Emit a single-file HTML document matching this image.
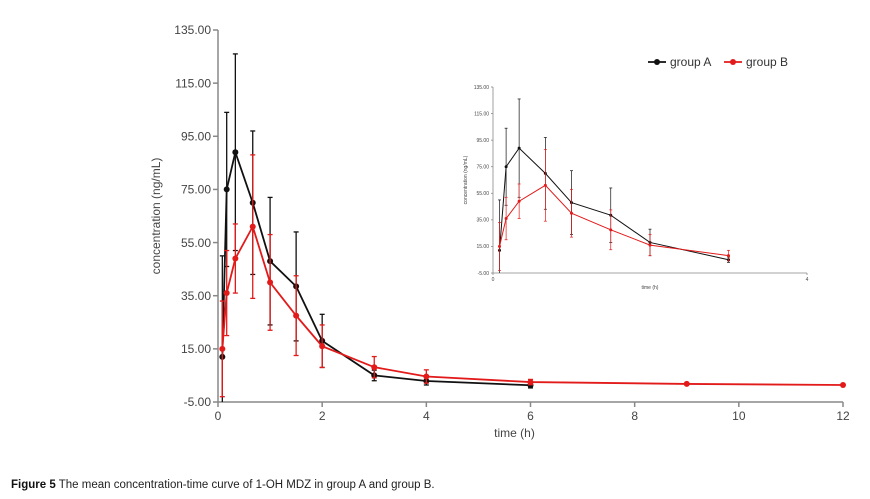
<!DOCTYPE html>
<html><head><meta charset="utf-8"><style>
body{margin:0;background:#fff;width:870px;height:499px;overflow:hidden;font-family:"Liberation Sans",sans-serif}
svg{position:absolute;left:0;top:0}
</style></head><body>
<svg id="c" width="870" height="499">
<text x="11" y="488" font-size="11.5" fill="#222"><tspan font-weight="bold" fill="#111">Figure 5</tspan> The mean concentration-time curve of 1-OH MDZ in group A and group B.</text>
</svg>
<script>
const times = [0.083,0.167,0.333,0.667,1,1.5,2,3,4,6];
const timesB = [0.083,0.167,0.333,0.667,1,1.5,2,3,4,6,9,12];
const meanA = [12,75,89,70,48,38.5,18,5,2.9,1.3];
const sdA = [38,29,37,27,24,20.5,10,2,1.5,1];
const meanB = [15,36,49,61,40,27.5,16,8.1,4.6,2.5,1.8,1.4];
const sdB = [18,16,13,27,18,15,8,4,2.5,1,0,0];
const yTicks = [-5,15,35,55,75,95,115,135];
const xTicksMain = [0,2,4,6,8,10,12];
const xTicksInset = [0,4];
const svg = document.getElementById('c');
const NS = 'http://www.w3.org/2000/svg';
function mk(tag, attrs, parent){const e=document.createElementNS(NS,tag);for(const k in attrs)e.setAttribute(k,attrs[k]);(parent||svg).appendChild(e);return e;}
function plot(cfg){
  const g = mk('g',{});
  
  
  const sx = t => cfg.x0 + (t - 0) / (cfg.xmax) * (cfg.x1 - cfg.x0);
  const sy = v => cfg.y0 - (Math.max(v,-5) + 5) / 140 * (cfg.y0 - cfg.y1);
  const ya = mk('line',{x1:cfg.x0,x2:cfg.x0,y1:cfg.y1,y2:cfg.y0,stroke:'#888','stroke-width':cfg.aw},g);
   
  const xa = mk('line',{x1:cfg.x0,x2:cfg.x1,y1:cfg.y0,y2:cfg.y0,stroke:'#888','stroke-width':cfg.aw},g);
   
  yTicks.forEach(v=>{
    mk('line',{x1:cfg.x0-cfg.tk,x2:cfg.x0,y1:sy(v),y2:sy(v),stroke:'#888','stroke-width':cfg.aw},g);
    const t = mk('text',{x:cfg.x0-cfg.tk-2,y:sy(v)+cfg.fs*0.35,'font-size':cfg.fs,'text-anchor':'end',fill:'#444'},g);
    t.textContent = v.toFixed(2);
     
  });
  cfg.xt.forEach(v=>{
    mk('line',{x1:sx(v),x2:sx(v),y1:cfg.y0,y2:cfg.y0+cfg.tk,stroke:'#888','stroke-width':cfg.aw},g);
    const t = mk('text',{x:sx(v),y:cfg.y0+cfg.tk+cfg.fs+1,'font-size':cfg.fs,'text-anchor':'middle',fill:'#444'},g);
    t.textContent = v;
     
  });
  const xl = mk('text',{x:(cfg.x0+cfg.x1)/2+cfg.xlOff,y:cfg.y0+cfg.xlY,'font-size':cfg.fs,'text-anchor':'middle',fill:'#444'},g);
  xl.textContent='time (h)';  
  const yl = mk('text',{x:0,y:0,'font-size':cfg.fs,'text-anchor':'middle',fill:'#444',transform:`translate(${cfg.x0-cfg.ylX},${(cfg.y0+cfg.y1)/2}) rotate(-90)`},g);
  yl.textContent='concentration  (ng/mL)';  
  const series = [[times,meanA,sdA,'#111','series-group-a'],[timesB,meanB,sdB,'#e21a1a','series-group-b']];
  series.forEach(([ts,m,s,col,nm])=>{
    const sg = mk('g',{},g);
     
    let pts=[];
    ts.forEach((t,i)=>{
      if(t>cfg.xlimit) return;
      pts.push(sx(t)+','+sy(m[i]));
      if(s[i]>0){
        const e = mk('line',{x1:sx(t),x2:sx(t),y1:sy(m[i]-s[i]),y2:sy(m[i]+s[i]),stroke:col,'stroke-width':cfg.ew},sg);
         
        [m[i]-s[i],m[i]+s[i]].forEach(v=>{ if(v>-5) mk('line',{x1:sx(t)-cfg.cap,x2:sx(t)+cfg.cap,y1:sy(v),y2:sy(v),stroke:col,'stroke-width':cfg.ew},sg);});
      }
    });
    const pl = mk('polyline',{points:pts.join(' '),fill:'none',stroke:col,'stroke-width':cfg.lw},sg);
     
    ts.forEach((t,i)=>{
      if(t>cfg.xlimit) return;
      const c = mk('circle',{cx:sx(t),cy:sy(m[i]),r:cfg.r,fill:col},sg);
       
    });
  });
}
plot({name:'main-plot',x0:218,x1:843,xmax:12,y0:402,y1:30,aw:1.5,tk:5,fs:12,xt:xTicksMain,xlOff:-16,xlY:35,ylX:58,lw:1.8,ew:1.3,cap:2.5,r:3,xlimit:99});
plot({name:'inset-plot',x0:493,x1:807,xmax:4,y0:273,y1:87,aw:0.8,tk:2,fs:5,xt:xTicksInset,xlOff:0,xlY:16,ylX:26,lw:1,ew:0.7,cap:1.5,r:1.5,xlimit:3.5});
const lg = mk('g',{});
 
[['group A','#111',648],['group B','#e21a1a',724]].forEach(([l,c,x])=>{
  const e = mk('g',{},lg);
   
  mk('line',{x1:x,x2:x+18,y1:62,y2:62,stroke:c,'stroke-width':1.8},e);
  mk('circle',{cx:x+9,cy:62,r:3,fill:c},e);
  const t = mk('text',{x:x+22,y:66,'font-size':12,fill:'#333'},e); t.textContent=l;
});
</script>
</body></html>
